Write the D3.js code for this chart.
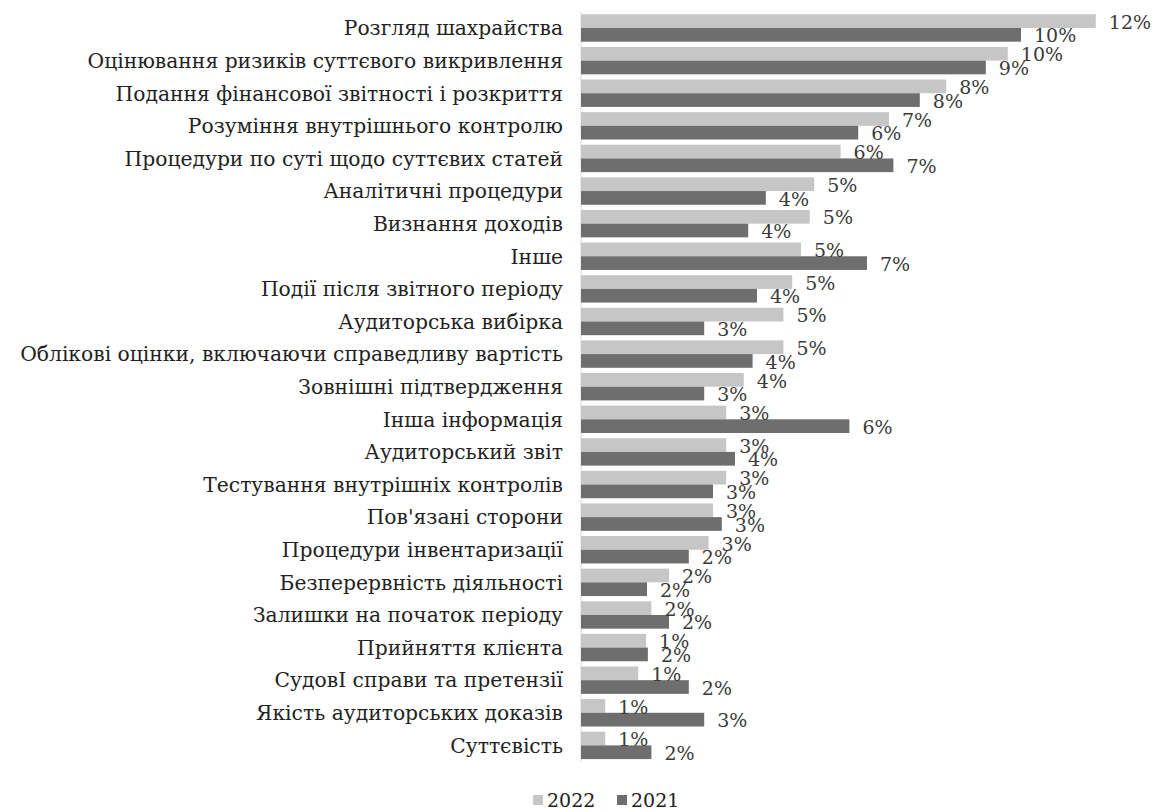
<!DOCTYPE html>
<html>
<head>
<meta charset="utf-8">
<script src="https://cdn.jsdelivr.net/npm/d3@7"></script>
<style>
  body { margin: 0; background: #fff; }
  .cat { font-family: "DejaVu Serif", serif; font-size: 20.3px; fill: #222; }
  .val { font-family: "DejaVu Serif", serif; font-size: 19px; fill: #3a3a3a; }
  .leg { font-family: "DejaVu Serif", serif; font-size: 19px; fill: #222; }
</style>
</head>
<body>
<div id="chart"></div>
<script>
// Categories (top to bottom)
var categories = [
  'Розгляд шахрайства',
  'Оцінювання ризиків суттєвого викривлення',
  'Подання фінансової звітності і розкриття',
  'Розуміння внутрішнього контролю',
  'Процедури по суті щодо суттєвих статей',
  'Аналітичні процедури',
  'Визнання доходів',
  'Інше',
  'Події після звітного періоду',
  'Аудиторська вибірка',
  'Облікові оцінки, включаючи справедливу вартість',
  'Зовнішні підтвердження',
  'Інша інформація',
  'Аудиторський звіт',
  'Тестування внутрішніх контролів',
  "Пов'язані сторони",
  'Процедури інвентаризації',
  'Безперервність діяльності',
  'Залишки на початок періоду',
  'Прийняття клієнта',
  'СудовІ справи та претензії',
  'Якість аудиторських доказів',
  'Суттєвість'
]

var series = ['2022', '2021']

// shares, %
var values2022 = [11.7, 9.7, 8.3, 7.0, 5.9, 5.3, 5.2, 5.0, 4.8, 4.6, 4.6, 3.7, 3.3, 3.3, 3.3, 3.0, 2.9, 2.0, 1.6, 1.48, 1.3, 0.55, 0.55]
var values2021 = [10.0, 9.2, 7.7, 6.3, 7.1, 4.2, 3.8, 6.5, 4.0, 2.8, 3.9, 2.8, 6.1, 3.5, 3.0, 3.2, 2.45, 1.5, 2.0, 1.52, 2.45, 2.8, 1.6]

var colors = {'2022': '#c6c6c6', '2021': '#6e6e6e'}

var width = 1156, height = 812

var svg = d3.select('#chart')
  .append('svg')
  .attr('width', width)
  .attr('height', height)

// scales
var x = d3.scaleLinear()
  .domain([0, 12])
  .range([581, 1109])

var y = d3.scaleBand()
  .domain(categories)
  .range([11.7, 761.7])
  .paddingInner(0.16)
  .paddingOuter(0.08)

var ySub = d3.scaleBand()
  .domain(series)
  .range([0, y.bandwidth()])

var rows = categories.map(function(c, i) {
  return {name: c, vals: [
    {s: '2022', v: values2022[i]},
    {s: '2021', v: values2021[i]}
  ]}
})

// axis line
svg.append('line')
  .attr('x1', x(0)).attr('x2', x(0))
  .attr('y1', y.range()[0]).attr('y2', y.range()[1])
  .style('stroke', '#d9d9d9')
  .style('stroke-width', 1)

// category labels
var yAxis = d3.axisLeft(y).tickSize(0).tickPadding(18)
var gy = svg.append('g')
  .attr('transform', 'translate(' + x(0) + ',0)')
  .call(yAxis)
gy.select('.domain').remove()
gy.attr('font-family', null).attr('font-size', null)
gy.selectAll('text')
  .attr('class', 'cat')
  .attr('dy', '0.36em')

var groups = svg.selectAll('.row')
  .data(rows)
  .enter()
  .append('g')
  .attr('class', 'row')
  .attr('transform', function(d) { return 'translate(0,' + y(d.name) + ')' })

groups.selectAll('rect')
  .data(function(d) { return d.vals })
  .enter()
  .append('rect')
  .attr('x', x(0))
  .attr('y', function(d) { return ySub(d.s) })
  .attr('width', function(d) { return x(d.v) - x(0) })
  .attr('height', ySub.bandwidth())
  .style('fill', function(d) { return colors[d.s] })

// value labels
groups.selectAll('text.val')
  .data(function(d) { return d.vals })
  .enter()
  .append('text')
  .attr('class', 'val')
  .attr('x', function(d) { return x(d.v) + 13 })
  .attr('y', function(d) { return ySub(d.s) + ySub.bandwidth() / 2 + 1 })
  .attr('dy', '0.35em')
  .text(function(d) { return Math.round(d.v) + '%' })

// legend
var legend = svg.append('g')
  .attr('transform', 'translate(533,800)')

var items = legend.selectAll('g')
  .data(series)
  .enter()
  .append('g')
  .attr('transform', function(d, i) { return 'translate(' + (i * 84) + ',0)' })

items.append('rect')
  .attr('x', 0).attr('y', -5)
  .attr('width', 10).attr('height', 10)
  .style('fill', function(d) { return colors[d] })

items.append('text')
  .attr('class', 'leg')
  .attr('x', 14)
  .attr('dy', '0.35em')
  .text(function(d) { return d })
</script>
</body>
</html>
